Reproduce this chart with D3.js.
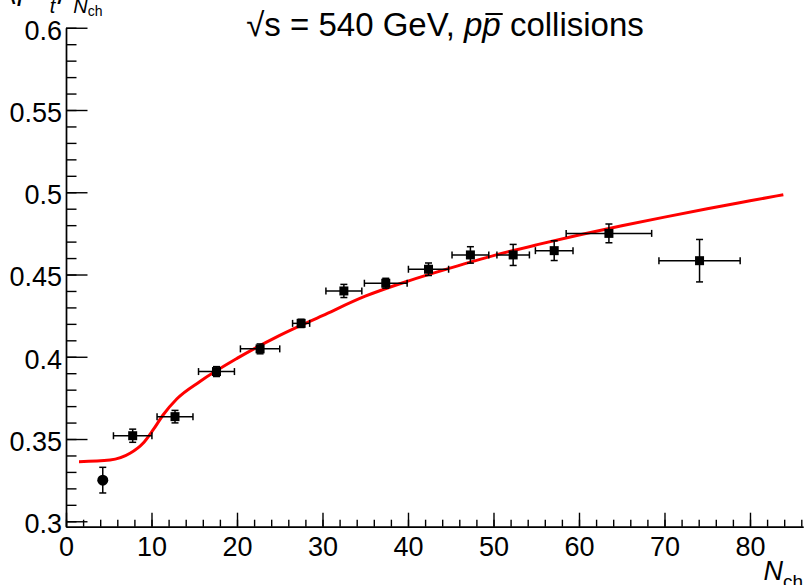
<!DOCTYPE html>
<html>
<head>
<meta charset="utf-8">
<script src="https://cdn.jsdelivr.net/npm/d3@7"></script>
<style>
  body { margin: 0; background: #fff; }
  svg { display: block; }
</style>
</head>
<body>
<script>
// <pT> vs Nch, sqrt(s)=540 GeV ppbar
const nch    = [4.3, 7.8, 12.75, 17.6, 22.7, 27.5, 32.5, 37.4, 42.4, 47.3, 52.3, 57.1, 63.5, 74.1];
const nchErr = [0, 2.25, 2.1, 2.1, 2.3, 1.0, 2.1, 2.5, 2.35, 2.15, 1.9, 2.2, 5.0, 4.75];
const meanPt = [0.325, 0.352, 0.3636, 0.391, 0.4048, 0.4203, 0.44, 0.4447, 0.4532, 0.4619, 0.4619, 0.4645, 0.475, 0.4584];
const ptErr  = [0.0078, 0.004, 0.0038, 0.003, 0.003, 0.0025, 0.004, 0.003, 0.0038, 0.005, 0.0064, 0.006, 0.0057, 0.0129];

// fit curve
const fitN  = [1.52, 5.15, 7.49, 9.01, 10.18, 11.35, 12.98, 15.67, 20, 25, 30, 35, 40, 45, 50, 55, 60, 65, 70, 75, 80, 83.9];
const fitPt = [0.3362, 0.3372, 0.3413, 0.3474, 0.3555, 0.3646, 0.3745, 0.3850, 0.3990, 0.4130, 0.4250, 0.4368, 0.4460, 0.4540, 0.4615, 0.4680, 0.4740, 0.4796, 0.4849, 0.4900, 0.4948, 0.4985];

const xMajor = [0, 10, 20, 30, 40, 50, 60, 70, 80];
const yMajor = [0.3, 0.35, 0.4, 0.45, 0.5, 0.55, 0.6];

const width = 807, height = 585;
const font = 'Liberation Sans, Arial, Helvetica, sans-serif';

const svg = d3.select('body').append('svg')
    .attr('width', width)
    .attr('height', height);
svg.append('rect').attr('width', width).attr('height', height).attr('fill', '#fff');

const x = d3.scaleLinear().domain([0, 86.2]).range([66, 803]);
const y = d3.scaleLinear().domain([0.2967, 0.6]).range([526.7, 27.75]);

const xBase = y.range()[0];
const yBase = x.range()[0];

// minor ticks
svg.append('g')
    .attr('transform', `translate(0,${xBase})`)
    .call(d3.axisBottom(x).tickValues(d3.range(0, 87, 2)).tickSize(-7).tickSizeOuter(0).tickFormat(''));
svg.append('g')
    .attr('transform', `translate(${yBase},0)`)
    .call(d3.axisLeft(y).tickValues(d3.range(30, 61, 1).map(v => v / 100)).tickSize(-10.5).tickSizeOuter(0).tickFormat(''));

// major ticks + labels
const gx = svg.append('g')
    .attr('transform', `translate(0,${xBase})`)
    .call(d3.axisBottom(x).tickValues(xMajor).tickSizeInner(-14).tickSizeOuter(0).tickPadding(10).tickFormat(d3.format('d')));
const gy = svg.append('g')
    .attr('transform', `translate(${yBase},0)`)
    .call(d3.axisLeft(y).tickValues(yMajor).tickSizeInner(-21.5).tickSizeOuter(0).tickPadding(4).tickFormat(d => String(+d.toFixed(2))));

svg.selectAll('.domain, .tick line').attr('stroke', '#000').attr('stroke-width', 1.4);
[gx, gy].forEach(g => g.attr('font-family', font).attr('font-size', 27));
svg.selectAll('.tick text').attr('fill', '#000');
gy.selectAll('.tick text').attr('dy', '0.42em');

// fit line
svg.append('path')
    .datum(fitN.map((n, i) => [n, fitPt[i]]))
    .attr('fill', 'none')
    .attr('stroke', '#ff0000')
    .attr('stroke-width', 3)
    .attr('d', d3.line().x(d => x(d[0])).y(d => y(d[1])).curve(d3.curveMonotoneX));

// data points with error bars
const pts = nch.map((n, i) => ({ n, ne: nchErr[i], p: meanPt[i], pe: ptErr[i], i }));
const cap = 3.5;
const eb = svg.append('g').attr('stroke', '#000').attr('stroke-width', 1.5);
pts.forEach(d => {
    const cx = x(d.n), cy = y(d.p);
    if (d.ne > 0) {
        const x0 = x(d.n - d.ne), x1 = x(d.n + d.ne);
        eb.append('line').attr('x1', x0).attr('x2', x1).attr('y1', cy).attr('y2', cy);
        eb.append('line').attr('x1', x0).attr('x2', x0).attr('y1', cy - cap).attr('y2', cy + cap);
        eb.append('line').attr('x1', x1).attr('x2', x1).attr('y1', cy - cap).attr('y2', cy + cap);
    }
    const y0 = y(d.p - d.pe), y1 = y(d.p + d.pe);
    eb.append('line').attr('x1', cx).attr('x2', cx).attr('y1', y0).attr('y2', y1);
    eb.append('line').attr('x1', cx - cap).attr('x2', cx + cap).attr('y1', y0).attr('y2', y0);
    eb.append('line').attr('x1', cx - cap).attr('x2', cx + cap).attr('y1', y1).attr('y2', y1);
});
svg.append('g').selectAll('.pt').data(pts).enter()
    .append(d => document.createElementNS('http://www.w3.org/2000/svg', d.i === 0 ? 'circle' : 'rect'))
    .attr('fill', '#000')
    .each(function (d) {
        const s = d3.select(this);
        if (d.i === 0) s.attr('cx', x(d.n)).attr('cy', y(d.p)).attr('r', 5.5);
        else s.attr('x', x(d.n) - 4.5).attr('y', y(d.p) - 4.5).attr('width', 9).attr('height', 9);
    });

// title
const title = svg.append('text')
    .attr('x', 445).attr('y', 36)
    .attr('text-anchor', 'middle')
    .attr('font-family', font)
    .attr('font-size', 33)
    .attr('fill', '#000');
title.append('tspan').text('√s = 540 GeV, ');
title.append('tspan').attr('font-style', 'italic').text('p');
title.append('tspan').attr('font-style', 'italic').text('p');
title.append('tspan').text(' collisions');
// bar over the anti-proton p
const pbar = title.node().getExtentOfChar(15);
svg.append('line')
    .attr('x1', pbar.x + 3).attr('x2', pbar.x + pbar.width + 2)
    .attr('y1', 14).attr('y2', 14)
    .attr('stroke', '#000').attr('stroke-width', 2);

// y axis title (cut by the top edge)
const yt = svg.append('text')
    .attr('x', 6).attr('y', 0)
    .attr('font-family', font)
    .attr('font-size', 30)
    .attr('fill', '#000');
yt.append('tspan').text('⟨');
yt.append('tspan').attr('font-style', 'italic').text('p');
yt.append('tspan').attr('font-style', 'italic').attr('font-size', 20).attr('dx', 15).attr('dy', 13).text('t');
yt.append('tspan').attr('dy', -13).text('⟩');
yt.append('tspan').attr('font-style', 'italic').attr('font-size', 20).attr('dx', 6).attr('dy', 13).text('N');
yt.append('tspan').attr('font-size', 14).attr('dy', 3).text('ch');

// x axis title
const xt = svg.append('text')
    .attr('x', 803).attr('y', 580)
    .attr('text-anchor', 'end')
    .attr('font-family', font)
    .attr('font-size', 27)
    .attr('fill', '#000');
xt.append('tspan').attr('font-style', 'italic').text('N');
xt.append('tspan').attr('font-size', 19).attr('dy', 8).text('ch');
</script>
</body>
</html>
